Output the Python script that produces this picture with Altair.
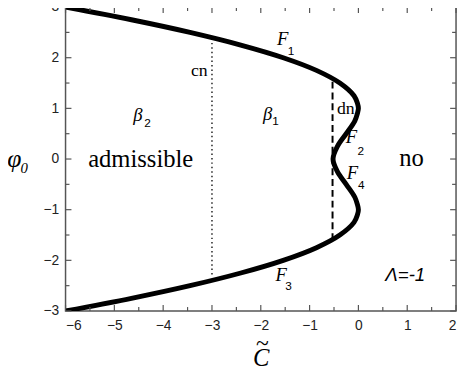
import altair as alt
import pandas as pd

# curve F1..F4 : phi0 vs C~
phi_vals = [3.0, 2.75, 2.5, 2.25, 2.0, 1.75, 1.5, 1.25, 1.1, 1.0, 0.9, 0.75, 0.5, 0.25, 0.0,
            -0.25, -0.5, -0.75, -0.9, -1.0, -1.1, -1.25, -1.5, -1.75, -2.0, -2.25, -2.5, -2.75, -3.0]
c_vals = [-6.0, -4.65, -3.45, -2.41, -1.54, -0.86, -0.38, -0.09, -0.02, 0.0, -0.02, -0.075, -0.25, -0.43, -0.52,
          -0.43, -0.25, -0.075, -0.02, 0.0, -0.02, -0.09, -0.38, -0.86, -1.54, -2.41, -3.45, -4.65, -6.0]

# cn (dotted) and dn (dashed) boundaries
cn_c = [-3.0, -3.0]
cn_phi = [-2.28, 2.3]
dn_c = [-0.53, -0.53]
dn_phi = [-1.6, 1.62]

x_ticks = [-6, -5, -4, -3, -2, -1, 0, 1, 2]
x_minor = [-5.5, -4.5, -3.5, -2.5, -1.5, -0.5, 0.5, 1.5]
y_ticks = [-3, -2, -1, 0, 1, 2, 3]
y_minor = [-2.5, -1.5, -0.5, 0.5, 1.5, 2.5]

# annotations (text, C, phi)
ann_text = ["F", "1", "F", "2", "F", "4", "F", "3", "β", "1", "β", "2", "cn", "dn"]
ann_c = [-1.55, -1.38, -0.14, 0.05, -0.12, 0.06, -1.58, -1.43, -1.86, -1.70, -4.52, -4.32, -3.26, -0.26]
ann_phi = [2.36, 2.14, 0.44, 0.15, -0.28, -0.51, -2.29, -2.51, 0.88, 0.75, 0.86, 0.71, 1.74, 0.98]
ann_kind = ["F", "s", "F", "s", "F", "s", "F", "s", "b", "s", "b", "s", "r", "r"]

big_text = ["admissible", "no"]
big_c = [-4.46, 1.09]
big_phi = [-0.15, -0.14]

W, H = 397, 309
SERIF = "'Liberation Serif', serif"
SANS = "'Liberation Sans', sans-serif"

xs = alt.Scale(domain=[-6, 2], nice=False, zero=False)
ys = alt.Scale(domain=[-3, 3], nice=False, zero=False)
AX_X = alt.Axis(values=x_ticks, format="d", title=None, grid=False, ticks=False,
                tickSize=0, domain=False, labelFont=SANS, labelFontSize=14,
                labelColor="#222", labelPadding=8)
AX_Y = alt.Axis(values=y_ticks, format="d", title=None, grid=False, ticks=False,
                tickSize=0, domain=False, labelFont=SANS, labelFontSize=14,
                labelColor="#222", labelPadding=7)


def X(f):
    return alt.X(f, scale=xs, axis=AX_X)


def Y(f):
    return alt.Y(f, scale=ys, axis=AX_Y)


curve_df = pd.DataFrame({"C": c_vals, "phi": phi_vals, "i": list(range(len(c_vals)))})
curve = alt.Chart(curve_df).mark_line(color="black", strokeWidth=5, clip=True,
                                      interpolate="catmull-rom").encode(
    x=X("C:Q"), y=Y("phi:Q"), order="i:Q")

cn = alt.Chart(pd.DataFrame({"C": cn_c, "phi": cn_phi})).mark_line(
    color="#222", strokeWidth=1.5, strokeDash=[1.5, 3]).encode(x=X("C:Q"), y=Y("phi:Q"))
dn = alt.Chart(pd.DataFrame({"C": dn_c, "phi": dn_phi})).mark_line(
    color="black", strokeWidth=2, strokeDash=[7, 4]).encode(x=X("C:Q"), y=Y("phi:Q"))

ann_df = pd.DataFrame({"t": ann_text, "C": ann_c, "phi": ann_phi, "k": ann_kind})


def ann_layer(kind, **style):
    return alt.Chart(ann_df).transform_filter(alt.datum.k == kind).mark_text(**style).encode(
        x=X("C:Q"), y=Y("phi:Q"), text="t:N")


f_lab = ann_layer("F", font=SERIF, fontStyle="italic", fontSize=19, color="black")
b_lab = ann_layer("b", font=SERIF, fontStyle="italic", fontSize=19, color="black")
s_lab = ann_layer("s", font=SANS, fontSize=12, color="black")
r_lab = ann_layer("r", font=SERIF, fontSize=18, color="black")

big = alt.Chart(pd.DataFrame({"t": big_text, "C": big_c, "phi": big_phi})).mark_text(
    font=SERIF, fontSize=25, baseline="alphabetic", color="black").encode(
    x=X("C:Q"), y=Y("phi:Q"), text="t:N")

lam = alt.Chart(pd.DataFrame({"t": ["Λ=-1"], "C": [0.96], "phi": [-2.40]})).mark_text(
    font=SANS, fontStyle="italic", fontSize=19, baseline="alphabetic", color="black").encode(
    x=X("C:Q"), y=Y("phi:Q"), text="t:N")


# frame ticks (inward)
def tick_rules(vals, side, length):
    d = pd.DataFrame({"v": vals})
    m = alt.Chart(d).mark_rule(color="#555", strokeWidth=1.2)
    if side == "bottom":
        return m.encode(x=X("v:Q"), y=alt.value(H), y2=alt.value(H - length))
    if side == "top":
        return m.encode(x=X("v:Q"), y=alt.value(0), y2=alt.value(length))
    if side == "left":
        return m.encode(y=Y("v:Q"), x=alt.value(0), x2=alt.value(length))
    return m.encode(y=Y("v:Q"), x=alt.value(W), x2=alt.value(W - length))


ticks = []
for side in ["bottom", "top"]:
    ticks.append(tick_rules(x_ticks, side, 6))
    ticks.append(tick_rules(x_minor, side, 4))
for side in ["left", "right"]:
    ticks.append(tick_rules(y_ticks, side, 6))
    ticks.append(tick_rules(y_minor, side, 4))

one = pd.DataFrame({"a": [0]})
ytitle = alt.Chart(one).mark_text(font=SERIF, fontStyle="italic", fontSize=26, color="black").encode(
    x=alt.value(-52), y=alt.value(155), text=alt.value("φ"))
ysub = alt.Chart(one).mark_text(font=SERIF, fontStyle="italic", fontSize=15, color="black").encode(
    x=alt.value(-42), y=alt.value(164), text=alt.value("0"))
xtitle = alt.Chart(one).mark_text(font=SERIF, fontStyle="italic", fontSize=25, color="black",
                                  baseline="alphabetic").encode(
    x=alt.value(199), y=alt.value(365), text=alt.value("C"))
xtilde = alt.Chart(one).mark_text(font=SERIF, fontSize=24, color="black",
                                  baseline="alphabetic").encode(
    x=alt.value(200), y=alt.value(350), text=alt.value("~"))

chart = alt.layer(curve, cn, dn, f_lab, b_lab, s_lab, r_lab, big, lam, *ticks,
                  ytitle, ysub, xtitle, xtilde).properties(
    width=W, height=H,
    autosize=alt.AutoSizeParams(type="none"),
    padding={"left": 58.5, "top": -4, "right": 2, "bottom": 60},
).configure_view(stroke="#555", strokeWidth=1.5)

chart.save("out.html", embed_options={"renderer": "svg", "actions": False})
